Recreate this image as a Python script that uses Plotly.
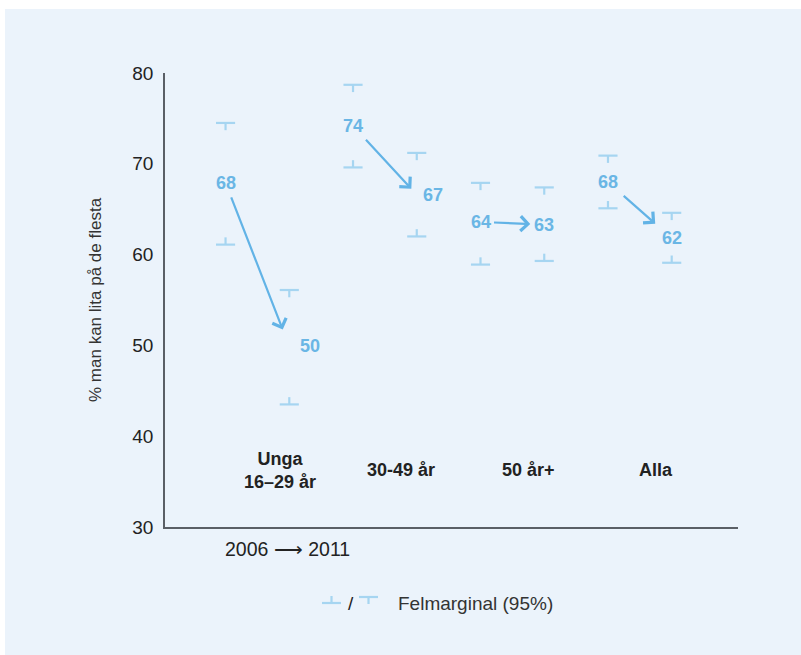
import plotly.graph_objects as go

# ---- data ----
groups = ["Unga<br>16–29 år", "30-49 år", "50 år+", "Alla"]
val_2006 = [67.9, 74.2, 63.6, 68.0]
val_2011 = [49.9, 66.6, 63.3, 61.8]
lo_2006 = [61.1, 69.6, 58.9, 65.1]
hi_2006 = [74.5, 78.7, 67.9, 70.9]
lo_2011 = [43.5, 62.0, 59.3, 59.1]
hi_2011 = [56.1, 71.2, 67.4, 64.6]
y_ticks = [30, 40, 50, 60, 70, 80]

# ---- styles ----
PANEL = "#EBF3FB"
CAP = "#A6D5F1"
ARROW = "#62B3E6"
LABEL = "#6AB6E5"
AXIS = "#5A5F66"
TEXT = "#222222"
FONT = "Liberation Sans, Arial, sans-serif"

W, H = 801, 655
ML, MR, MT, MB = 165, 63, 73, 128
PW, PH = W - ML - MR, H - MT - MB

def px(x):  # pixel x -> paper
    return (x - ML) / PW

def py(y):  # pixel y -> paper
    return (H - MB - y) / PH

off = 0.25          # year offset inside a group
cap_hw = 0.075      # half cap width (x units)
cap_tick = 0.8      # cap tick length (y units)
x06 = [i - off for i in range(len(groups))]
x11 = [i + off for i in range(len(groups))]

fig = go.Figure()

def caps(xs, los, his):
    X, Y = [], []
    for x, lo, hi in zip(xs, los, his):
        X += [x - cap_hw, x + cap_hw, None, x, x, None]
        Y += [hi, hi, None, hi, hi - cap_tick, None]
        X += [x - cap_hw, x + cap_hw, None, x, x, None]
        Y += [lo, lo, None, lo, lo + cap_tick, None]
    return X, Y

for xs, los, his in [(x06, lo_2006, hi_2006), (x11, lo_2011, hi_2011)]:
    X, Y = caps(xs, los, his)
    fig.add_trace(go.Scatter(x=X, y=Y, mode="lines", hoverinfo="skip",
                             line=dict(color=CAP, width=2.2), showlegend=False))

annotations = []
label_dx_2011 = [21, 16, 0, 0]
start_so = [14, 17, 12, 19]
end_so = [18, 8, 14, 22]
for i in range(len(groups)):
    annotations.append(dict(x=x06[i], y=val_2006[i], text=f"<b>{round(val_2006[i])}</b>",
                            showarrow=False, font=dict(size=18, color=LABEL, family=FONT),
                            xanchor="center", yanchor="middle"))
    annotations.append(dict(x=x11[i], y=val_2011[i], text=f"<b>{round(val_2011[i])}</b>",
                            showarrow=False, xshift=label_dx_2011[i],
                            font=dict(size=18, color=LABEL, family=FONT),
                            xanchor="center", yanchor="middle"))
    annotations.append(dict(x=x11[i], y=val_2011[i], ax=x06[i], ay=val_2006[i],
                            xref="x", yref="y", axref="x", ayref="y", text="",
                            showarrow=True, arrowhead=4, arrowsize=1.3, arrowwidth=2.2,
                            arrowcolor=ARROW, standoff=end_so[i], startstandoff=start_so[i]))

group_dx = [0.18, 0.13, 0.13, 0.13]
for i, g in enumerate(groups):
    annotations.append(dict(x=i + group_dx[i], y=py(470), yref="paper", text=f"<b>{g}</b>",
                            showarrow=False, font=dict(size=18, color=TEXT, family=FONT),
                            xanchor="center", yanchor="middle"))

annotations += [
    dict(x=px(95), y=0.5, xref="paper", yref="paper", text="% man kan lita på de flesta",
         textangle=-90, showarrow=False, font=dict(size=17, color="#333333", family=FONT),
         xanchor="center", yanchor="middle"),
    dict(x=px(287), y=py(549), xref="paper", yref="paper", text="2006 ⟶ 2011",
         showarrow=False, font=dict(size=19.5, color=TEXT, family=FONT),
         xanchor="center", yanchor="middle"),
    dict(x=px(351), y=py(603), xref="paper", yref="paper", text="/",
         showarrow=False, font=dict(size=19, color=TEXT, family=FONT),
         xanchor="center", yanchor="middle"),
    dict(x=px(396), y=py(603), xref="paper", yref="paper", text="Felmarginal (95%)",
         showarrow=False, font=dict(size=19, color="#333333", family=FONT),
         xanchor="left", yanchor="middle"),
]

shapes = [
    # white strips outside the tinted panel
    dict(type="rect", xref="paper", yref="paper", x0=px(0), x1=px(W), y0=py(9), y1=py(0),
         fillcolor="white", line=dict(width=0), layer="below"),
    dict(type="rect", xref="paper", yref="paper", x0=px(0), x1=px(5), y0=py(H), y1=py(0),
         fillcolor="white", line=dict(width=0), layer="below"),
    dict(type="line", xref="paper", yref="paper", x0=px(322), x1=px(341), y0=py(603), y1=py(603),
         line=dict(color=CAP, width=2.2)),
    dict(type="line", xref="paper", yref="paper", x0=px(331.5), x1=px(331.5), y0=py(603), y1=py(596),
         line=dict(color=CAP, width=2.2)),
    dict(type="line", xref="paper", yref="paper", x0=px(359), x1=px(378), y0=py(597), y1=py(597),
         line=dict(color=CAP, width=2.2)),
    dict(type="line", xref="paper", yref="paper", x0=px(368.5), x1=px(368.5), y0=py(597), y1=py(604),
         line=dict(color=CAP, width=2.2)),
]

fig.update_layout(
    width=W, height=H,
    margin=dict(l=ML, r=MR, t=MT, b=MB, pad=0),
    paper_bgcolor=PANEL, plot_bgcolor=PANEL,
    showlegend=False,
    annotations=annotations, shapes=shapes,
    font=dict(family=FONT, color=TEXT),
    xaxis=dict(range=[-0.725, 3.77], showgrid=False, zeroline=False, showticklabels=False,
               ticks="", showline=True, linecolor=AXIS, linewidth=1.5, fixedrange=True),
    yaxis=dict(range=[30, 80], tickvals=y_ticks, showgrid=False, zeroline=False,
               ticks="", showline=True, linecolor=AXIS, linewidth=1.5,
               tickfont=dict(size=19, color=TEXT, family=FONT), ticklabelstandoff=6),
)

fig.write_html("out.html", config={"displayModeBar": False},
               post_script=("document.body.style.margin='0';"
                            "document.body.style.background='linear-gradient(to right, white 5px, "
                            + PANEL + " 5px)';"
                            "document.documentElement.style.background='linear-gradient(to right, white 5px, "
                            + PANEL + " 5px)';"))
